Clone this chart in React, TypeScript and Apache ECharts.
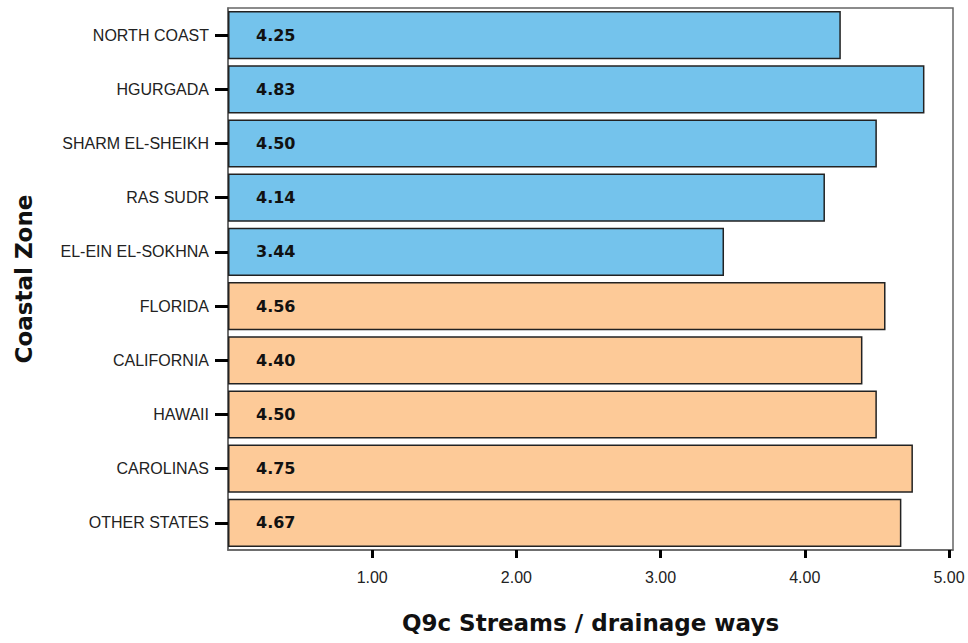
import React, { useEffect, useRef } from "react";
import * as echarts from "echarts";

const categories = [
  "NORTH COAST",
  "HGURGADA",
  "SHARM EL-SHEIKH",
  "RAS SUDR",
  "EL-EIN EL-SOKHNA",
  "FLORIDA",
  "CALIFORNIA",
  "HAWAII",
  "CAROLINAS",
  "OTHER STATES",
];
const values = [4.25, 4.83, 4.5, 4.14, 3.44, 4.56, 4.4, 4.5, 4.75, 4.67];
const groups = ["eg", "eg", "eg", "eg", "eg", "us", "us", "us", "us", "us"];
const groupColors: Record<string, string> = { eg: "#74C3EC", us: "#FDCA98" };
const xTicks = [1, 2, 3, 4, 5];

export default function App() {
  const ref = useRef<HTMLDivElement>(null);
  useEffect(() => {
    if (!ref.current) return;
    const chart = echarts.init(ref.current, undefined, { renderer: "svg" });
    chart.setOption({
      animation: false,
      backgroundColor: "#ffffff",
      grid: {
        left: 228,
        right: 15,
        top: 8,
        bottom: 93,
        outerBoundsMode: "none",
        containLabel: false,
        show: true,
        borderColor: "#666",
        borderWidth: 1.5,
      },
      xAxis: {
        type: "value",
        min: 0,
        max: 5.028,
        name: "Q9c Streams / drainage ways",
        nameLocation: "middle",
        nameGap: 61,
        nameTextStyle: {
          fontFamily: "DejaVu Sans",
          fontWeight: "bold",
          fontSize: 23,
          color: "#111",
        },
        splitLine: { show: false },
        axisLine: { show: true, lineStyle: { color: "#666", width: 1.5 } },
        axisTick: {
          show: true,
          length: 8,
          customValues: xTicks,
          lineStyle: { color: "#000", width: 3 },
        },
        axisLabel: {
          customValues: xTicks,
          formatter: (v: number) => v.toFixed(2),
          margin: 19,
          fontFamily: "Liberation Sans",
          fontSize: 16,
          color: "#222",
        },
      },
      yAxis: {
        type: "category",
        data: categories,
        inverse: true,
        name: "Coastal Zone",
        nameLocation: "middle",
        nameGap: 193,
        nameRotate: 90,
        nameTextStyle: {
          fontFamily: "DejaVu Sans",
          fontWeight: "bold",
          fontSize: 23,
          color: "#111",
        },
        axisLine: { show: true, lineStyle: { color: "#666", width: 1.5 } },
        axisTick: {
          show: true,
          alignWithLabel: true,
          length: 13,
          lineStyle: { color: "#000", width: 3 },
        },
        axisLabel: {
          margin: 19,
          fontFamily: "Liberation Sans",
          fontSize: 16,
          color: "#222",
        },
      },
      series: [
        {
          type: "bar",
          barCategoryGap: "11%",
          data: values.map((v, i) => ({
            value: v,
            itemStyle: {
              color: groupColors[groups[i]],
              borderColor: "#222",
              borderWidth: 1.5,
            },
          })),
          label: {
            show: true,
            position: [28, "50%"],
            verticalAlign: "middle",
            formatter: (p: any) => Number(p.value).toFixed(2),
            fontFamily: "DejaVu Sans",
            fontWeight: "bold",
            fontSize: 16,
            color: "#111",
          },
        },
      ],
    });
    return () => chart.dispose();
  }, []);
  return (
    <div
      ref={ref}
      style={{ position: "fixed", left: 0, top: 0, width: 968, height: 643 }}
    />
  );
}
